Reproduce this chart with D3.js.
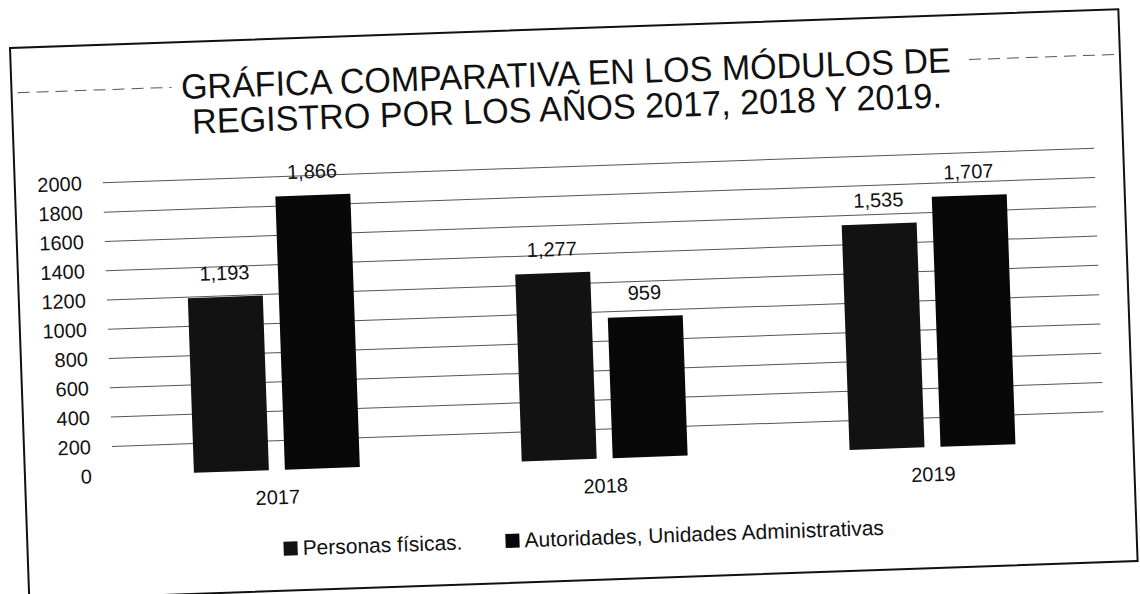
<!DOCTYPE html>
<html>
<head>
<meta charset="utf-8">
<script src="https://cdn.jsdelivr.net/npm/d3@7"></script>
<style>
  html, body { margin: 0; padding: 0; background: #fff; }
  svg { display: block; }
  text { font-family: "Liberation Sans", Arial, sans-serif; fill: #111; }
</style>
</head>
<body>
<svg id="chart" width="1140" height="594"></svg>
<script>
// ---- data ----
const titleLines = ["GRÁFICA COMPARATIVA EN LOS MÓDULOS DE", "REGISTRO POR LOS AÑOS 2017, 2018 Y 2019."];
const years = ["2017", "2018", "2019"];
const seriesNames = ["Personas físicas.", "Autoridades, Unidades Administrativas"];
const personas = [1193, 1277, 1535];
const autoridades = [1866, 959, 1707];
const yTicks = [0, 200, 400, 600, 800, 1000, 1200, 1400, 1600, 1800, 2000];
const seriesColors = ["#121212", "#080808"];

// ---- layout ----
const svg = d3.select("#chart");
const W = 1109, H = 552;
const g = svg.append("g").attr("transform", "translate(10,48) rotate(-2)");

// frame
g.append("rect").attr("x", 0).attr("y", 0).attr("width", W).attr("height", H)
  .attr("fill", "#fff").attr("stroke", "#111").attr("stroke-width", 2);

// faint dashed line crossing behind title (scan artifact)
g.append("line").attr("x1", 6).attr("x2", 160).attr("y1", 45).attr("y2", 45)
  .attr("stroke", "#555").attr("stroke-width", 1).attr("stroke-dasharray", "12,7");
g.append("line").attr("x1", 958).attr("x2", 1105).attr("y1", 45).attr("y2", 45)
  .attr("stroke", "#555").attr("stroke-width", 1).attr("stroke-dasharray", "12,7");

// title
const titleWidths = [770, 750];
g.append("g").selectAll("text").data(titleLines).join("text")
  .attr("x", W / 2).attr("y", (d, i) => 57 + i * 35)
  .attr("text-anchor", "middle").attr("font-size", 35)
  .attr("textLength", (d, i) => titleWidths[i]).attr("lengthAdjust", "spacingAndGlyphs")
  .text(d => d);

// scales
const plotLeft = 88, plotRight = 1072;
const y = d3.scaleLinear().domain([0, 2000]).range([431, 138]);
const x0 = d3.scaleBand().domain(years).range([plotLeft, plotRight]).paddingInner(0).paddingOuter(0);
const groupW = 166;
const x1 = d3.scaleBand().domain(seriesNames).range([0, groupW]).paddingInner(0.176).paddingOuter(0);

// gridlines
g.append("g").selectAll("line").data(yTicks.filter(t => t > 0)).join("line")
  .attr("x1", plotLeft).attr("x2", plotRight + 8)
  .attr("y1", d => y(d)).attr("y2", d => y(d))
  .attr("stroke", "#555").attr("stroke-width", 1);

// y axis labels
const yAxis = d3.axisLeft(y).tickValues(yTicks).tickSize(0).tickPadding(0).tickFormat(d3.format("d"));
const ya = g.append("g").attr("transform", "translate(67,0)").call(yAxis);
ya.select(".domain").remove();
ya.selectAll("text").attr("font-size", 20).attr("fill", "#111")
  .style("font-family", "'Liberation Sans', Arial, sans-serif");

// bars
const data = years.map((yr, i) => ({ year: yr, values: [personas[i], autoridades[i]] }));
const groups = g.append("g").selectAll("g").data(data).join("g")
  .attr("transform", d => `translate(${x0(d.year) + (x0.bandwidth() - groupW) / 2},0)`);

groups.selectAll("rect").data(d => d.values.map((v, j) => ({ v, s: seriesNames[j], j })))
  .join("rect")
  .attr("x", d => x1(d.s)).attr("width", x1.bandwidth())
  .attr("y", d => y(d.v)).attr("height", d => y(0) - y(d.v))
  .attr("fill", d => seriesColors[d.j]);

groups.selectAll("text.lbl").data(d => d.values.map((v, j) => ({ v, s: seriesNames[j] })))
  .join("text").attr("class", "lbl")
  .attr("x", d => x1(d.s) + x1.bandwidth() / 2)
  .attr("y", d => y(d.v) - 17)
  .attr("text-anchor", "middle").attr("font-size", 20)
  .text(d => d3.format(",")(d.v));

// x axis labels
const xAxis = d3.axisBottom(x0).tickSize(0).tickPadding(0);
const xa = g.append("g").attr("transform", `translate(0,${y(0) + 20})`).call(xAxis);
xa.select(".domain").remove();
xa.selectAll("text").attr("font-size", 20).attr("fill", "#111").attr("dy", "0.71em")
  .style("font-family", "'Liberation Sans', Arial, sans-serif");

// legend
const legendItems = [{ name: seriesNames[0], x: 256, c: seriesColors[0] }, { name: seriesNames[1], x: 478, c: seriesColors[1] }];
const lg = g.append("g").selectAll("g").data(legendItems).join("g")
  .attr("transform", d => `translate(${d.x},510)`);
lg.append("rect").attr("x", 0).attr("y", -7).attr("width", 14).attr("height", 14).attr("fill", d => d.c);
lg.append("text").attr("x", 19).attr("y", 7).attr("font-size", 21).text(d => d.name);
</script>
</body>
</html>
